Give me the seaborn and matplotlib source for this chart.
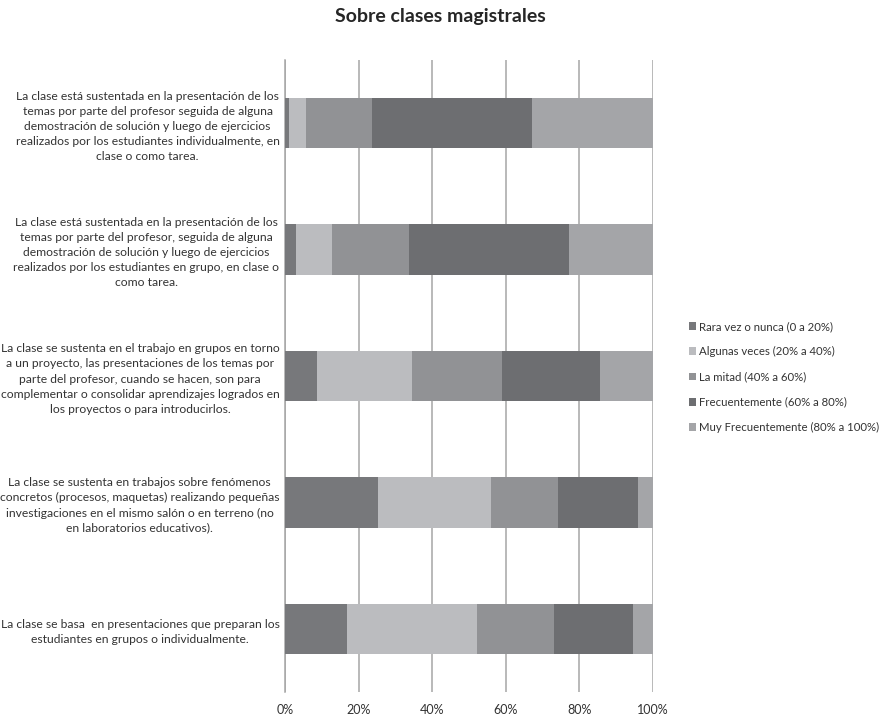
import matplotlib
matplotlib.use("Agg")
import matplotlib.pyplot as plt
from matplotlib.patches import Patch
import seaborn as sns
import pandas as pd
import numpy as np

categories = [
    "La clase está sustentada en la presentación de los\ntemas por parte del profesor seguida de alguna\ndemostración de solución y luego de ejercicios\nrealizados por los estudiantes individualmente, en\nclase o como tarea.",
    "La clase está sustentada en la presentación de los\ntemas por parte del profesor, seguida de alguna\ndemostración de solución y luego de ejercicios\nrealizados por los estudiantes en grupo, en clase o\ncomo tarea.",
    "La clase se sustenta en el trabajo en grupos en torno\na un proyecto, las presentaciones de los temas por\nparte del profesor, cuando se hacen, son para\ncomplementar o consolidar aprendizajes logrados en\nlos proyectos o para introducirlos.",
    "La clase se sustenta en trabajos sobre fenómenos\nconcretos (procesos, maquetas) realizando pequeñas\ninvestigaciones en el mismo salón o en terreno (no\nen laboratorios educativos).",
    "La clase se basa  en presentaciones que preparan los\nestudiantes en grupos o individualmente.",
]
series_names = [
    "Rara vez o nunca (0 a 20%)",
    "Algunas veces (20% a 40%)",
    "La mitad (40% a 60%)",
    "Frecuentemente (60% a 80%)",
    "Muy Frecuentemente (80% a 100%)",
]
rara_vez = [1.0, 2.9, 8.6, 25.4, 16.9]
algunas = [4.7, 9.9, 25.9, 30.7, 35.3]
mitad = [18.0, 21.0, 24.6, 18.0, 20.9]
frecuente = [43.4, 43.3, 26.4, 21.7, 21.5]
muy_frecuente = [32.9, 22.9, 14.5, 4.2, 5.4]
x_ticklabels = ["0%", "20%", "40%", "60%", "80%", "100%"]

colors = ["#77787b", "#bbbcbf", "#919295", "#6d6e71", "#a4a5a8"]

sns.set_theme(style="white")
plt.rcParams["font.family"] = ["Lato", "DejaVu Sans"]

values = np.array([rara_vez, algunas, mitad, frecuente, muy_frecuente])
cum = np.cumsum(values, axis=0)

fig = plt.figure(figsize=(8.81, 7.17), dpi=100)
ax = fig.add_axes([285/881, 1-692/717, (653-285)/881, (692-60)/717])

for i in range(len(series_names) - 1, -1, -1):
    df = pd.DataFrame({"cat": categories, "val": cum[i]})
    sns.barplot(data=df, x="val", y="cat", orient="h", color=colors[i],
                width=0.4, saturation=1, ax=ax, zorder=3, linewidth=0)

ax.set_xlim(0, 100)
ax.set_ylim(4.5, -0.5)
ax.set_xticks([0, 20, 40, 60, 80, 100])
ax.set_xticklabels(x_ticklabels, fontsize=9, color="#333333")
ax.xaxis.grid(True, color="#a6a6a6", linewidth=1.1, zorder=0)
ax.set_axisbelow(True)
ax.set_xlabel("")
ax.set_ylabel("")
ax.tick_params(axis="x", length=0, pad=9)
ax.tick_params(axis="y", which="major", length=0, pad=4)
ax.set_yticks(np.arange(-0.5, 5.0, 1.0), minor=True)
ax.tick_params(axis="y", which="minor", length=4, color="#a6a6a6", width=1)
for lab in ax.get_yticklabels():
    lab.set_multialignment("center")
    lab.set_fontsize(8.7)
    lab.set_linespacing(1.45)
    lab.set_color("#333333")
for s in ["top", "right", "bottom"]:
    ax.spines[s].set_visible(False)
ax.spines["left"].set_color("#a6a6a6")
ax.spines["left"].set_linewidth(1.1)

handles = [Patch(facecolor=c, edgecolor="none") for c in colors]
fig.legend(handles, series_names, loc="upper left", bbox_to_anchor=(689/881, 1-321/717),
           frameon=False, fontsize=8.2, handlelength=0.65, handleheight=0.65,
           handletextpad=0.25, labelspacing=1.25, labelcolor="#333333",
           borderpad=0, borderaxespad=0)

fig.suptitle("Sobre clases magistrales", x=440/881, y=1-8/717, fontsize=14,
             fontweight="bold", color="#262626", va="top")

fig.savefig("out.png", dpi=100, facecolor="white")
